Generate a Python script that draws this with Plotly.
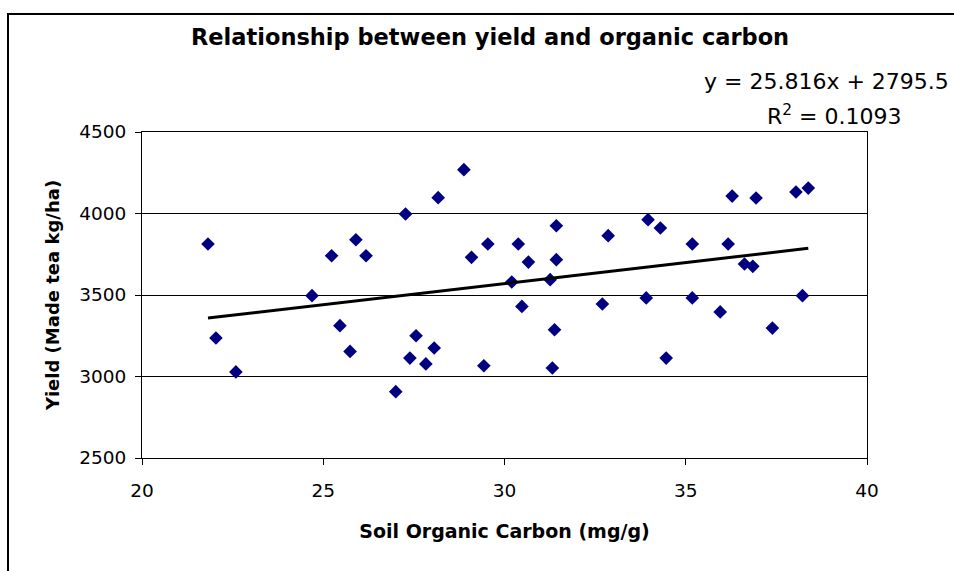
import plotly.graph_objects as go

# Data
soil_carbon = [21.82, 22.04, 22.59, 24.69, 25.23, 25.46, 25.74, 25.90, 26.18, 27.00,
               27.27, 27.39, 27.56, 27.83, 28.06, 28.17, 28.88, 29.09, 29.43, 29.54,
               30.20, 30.38, 30.48, 30.66, 31.26, 31.32, 31.38, 31.43, 31.43, 32.70,
               32.86, 33.91, 33.96, 34.30, 34.46, 35.18, 35.18, 35.95, 36.17, 36.28,
               36.62, 36.85, 36.94, 37.39, 38.04, 38.22, 38.38]
yield_kg = [3813, 3236, 3028, 3496, 3741, 3312, 3154, 3839, 3741, 2907,
            3997, 3113, 3250, 3077, 3175, 4097, 4269, 3731, 3066, 3813,
            3580, 3813, 3430, 3702, 3594, 3052, 3287, 3925, 3717, 3445,
            3864, 3482, 3962, 3911, 3113, 3813, 3482, 3396, 3813, 4107,
            3690, 3676, 4095, 3297, 4132, 3496, 4156]

slope = 25.816
intercept = 2795.5
r_squared = 0.1093

x_ticks = [20, 25, 30, 35, 40]
y_ticks = [2500, 3000, 3500, 4000, 4500]

trend_x = [min(soil_carbon), max(soil_carbon)]
trend_y = [slope * v + intercept for v in trend_x]

FONT = "DejaVu Sans"

fig = go.Figure()
fig.add_trace(go.Scatter(
    x=soil_carbon, y=yield_kg, mode="markers",
    marker=dict(symbol="diamond", size=10.5, color="#000080",
                line=dict(width=0)),
    showlegend=False, hoverinfo="x+y"))
fig.add_trace(go.Scatter(
    x=trend_x, y=trend_y, mode="lines",
    line=dict(color="black", width=3),
    showlegend=False, hoverinfo="skip"))

fig.update_layout(
    width=954, height=571,
    margin=dict(l=142, r=87, t=132, b=113),
    paper_bgcolor="white", plot_bgcolor="white",
    font=dict(family=FONT, color="black", size=18),
    xaxis=dict(range=[20, 40], tickvals=x_ticks, ticktext=[str(v) for v in x_ticks],
               showgrid=False, zeroline=False, showline=True, linecolor="black",
               linewidth=1, mirror=True, ticks="outside", ticklen=6, tickcolor="black",
               tickfont=dict(family=FONT, size=18.5, color="black"),
               ticklabelstandoff=10,
               title=dict(text="<b>Soil Organic Carbon (mg/g)</b>",
                          font=dict(family=FONT, size=19, color="black"), standoff=24)),
    yaxis=dict(range=[2500, 4500], tickvals=y_ticks, ticktext=[str(v) for v in y_ticks],
               showgrid=True, gridcolor="black", gridwidth=1, zeroline=False,
               showline=True, linecolor="black", linewidth=1, mirror=True,
               ticks="outside", ticklen=6, tickcolor="black",
               tickfont=dict(family=FONT, size=18.5, color="black"),
               ticklabelstandoff=5,
               title=dict(text="<b>Yield (Made tea kg/ha)</b>",
                          font=dict(family=FONT, size=18, color="black"), standoff=14)),
)

# outer chart frame (partly clipped like the reference)
fig.add_shape(type="rect", xref="paper", yref="paper",
              x0=(8 - 142) / 725, x1=(965 - 142) / 725,
              y0=(458 - 585) / 326, y1=(458 - 14) / 326,
              line=dict(color="black", width=2), fillcolor="rgba(0,0,0,0)", layer="below")

fig.add_annotation(xref="paper", yref="paper",
                   x=(490 - 142) / 725, y=(458 - 37) / 326,
                   xanchor="center", yanchor="middle", showarrow=False,
                   text="<b>Relationship between yield and organic carbon</b>",
                   font=dict(family=FONT, size=22.5, color="black"))
fig.add_annotation(xref="paper", yref="paper",
                   x=(951 - 142) / 725, y=(458 - 81) / 326,
                   xanchor="right", yanchor="middle", showarrow=False,
                   text=f"y = {slope}x + {intercept}",
                   font=dict(family=FONT, size=22, color="black"))
fig.add_annotation(xref="paper", yref="paper",
                   x=(904 - 142) / 725, y=(458 - 115) / 326,
                   xanchor="right", yanchor="middle", showarrow=False,
                   text=f"R<sup>2</sup> = {r_squared}",
                   font=dict(family=FONT, size=22, color="black"))

fig.write_html("out.html", config={"displayModeBar": False},
               post_script="document.body.style.margin='0';")
